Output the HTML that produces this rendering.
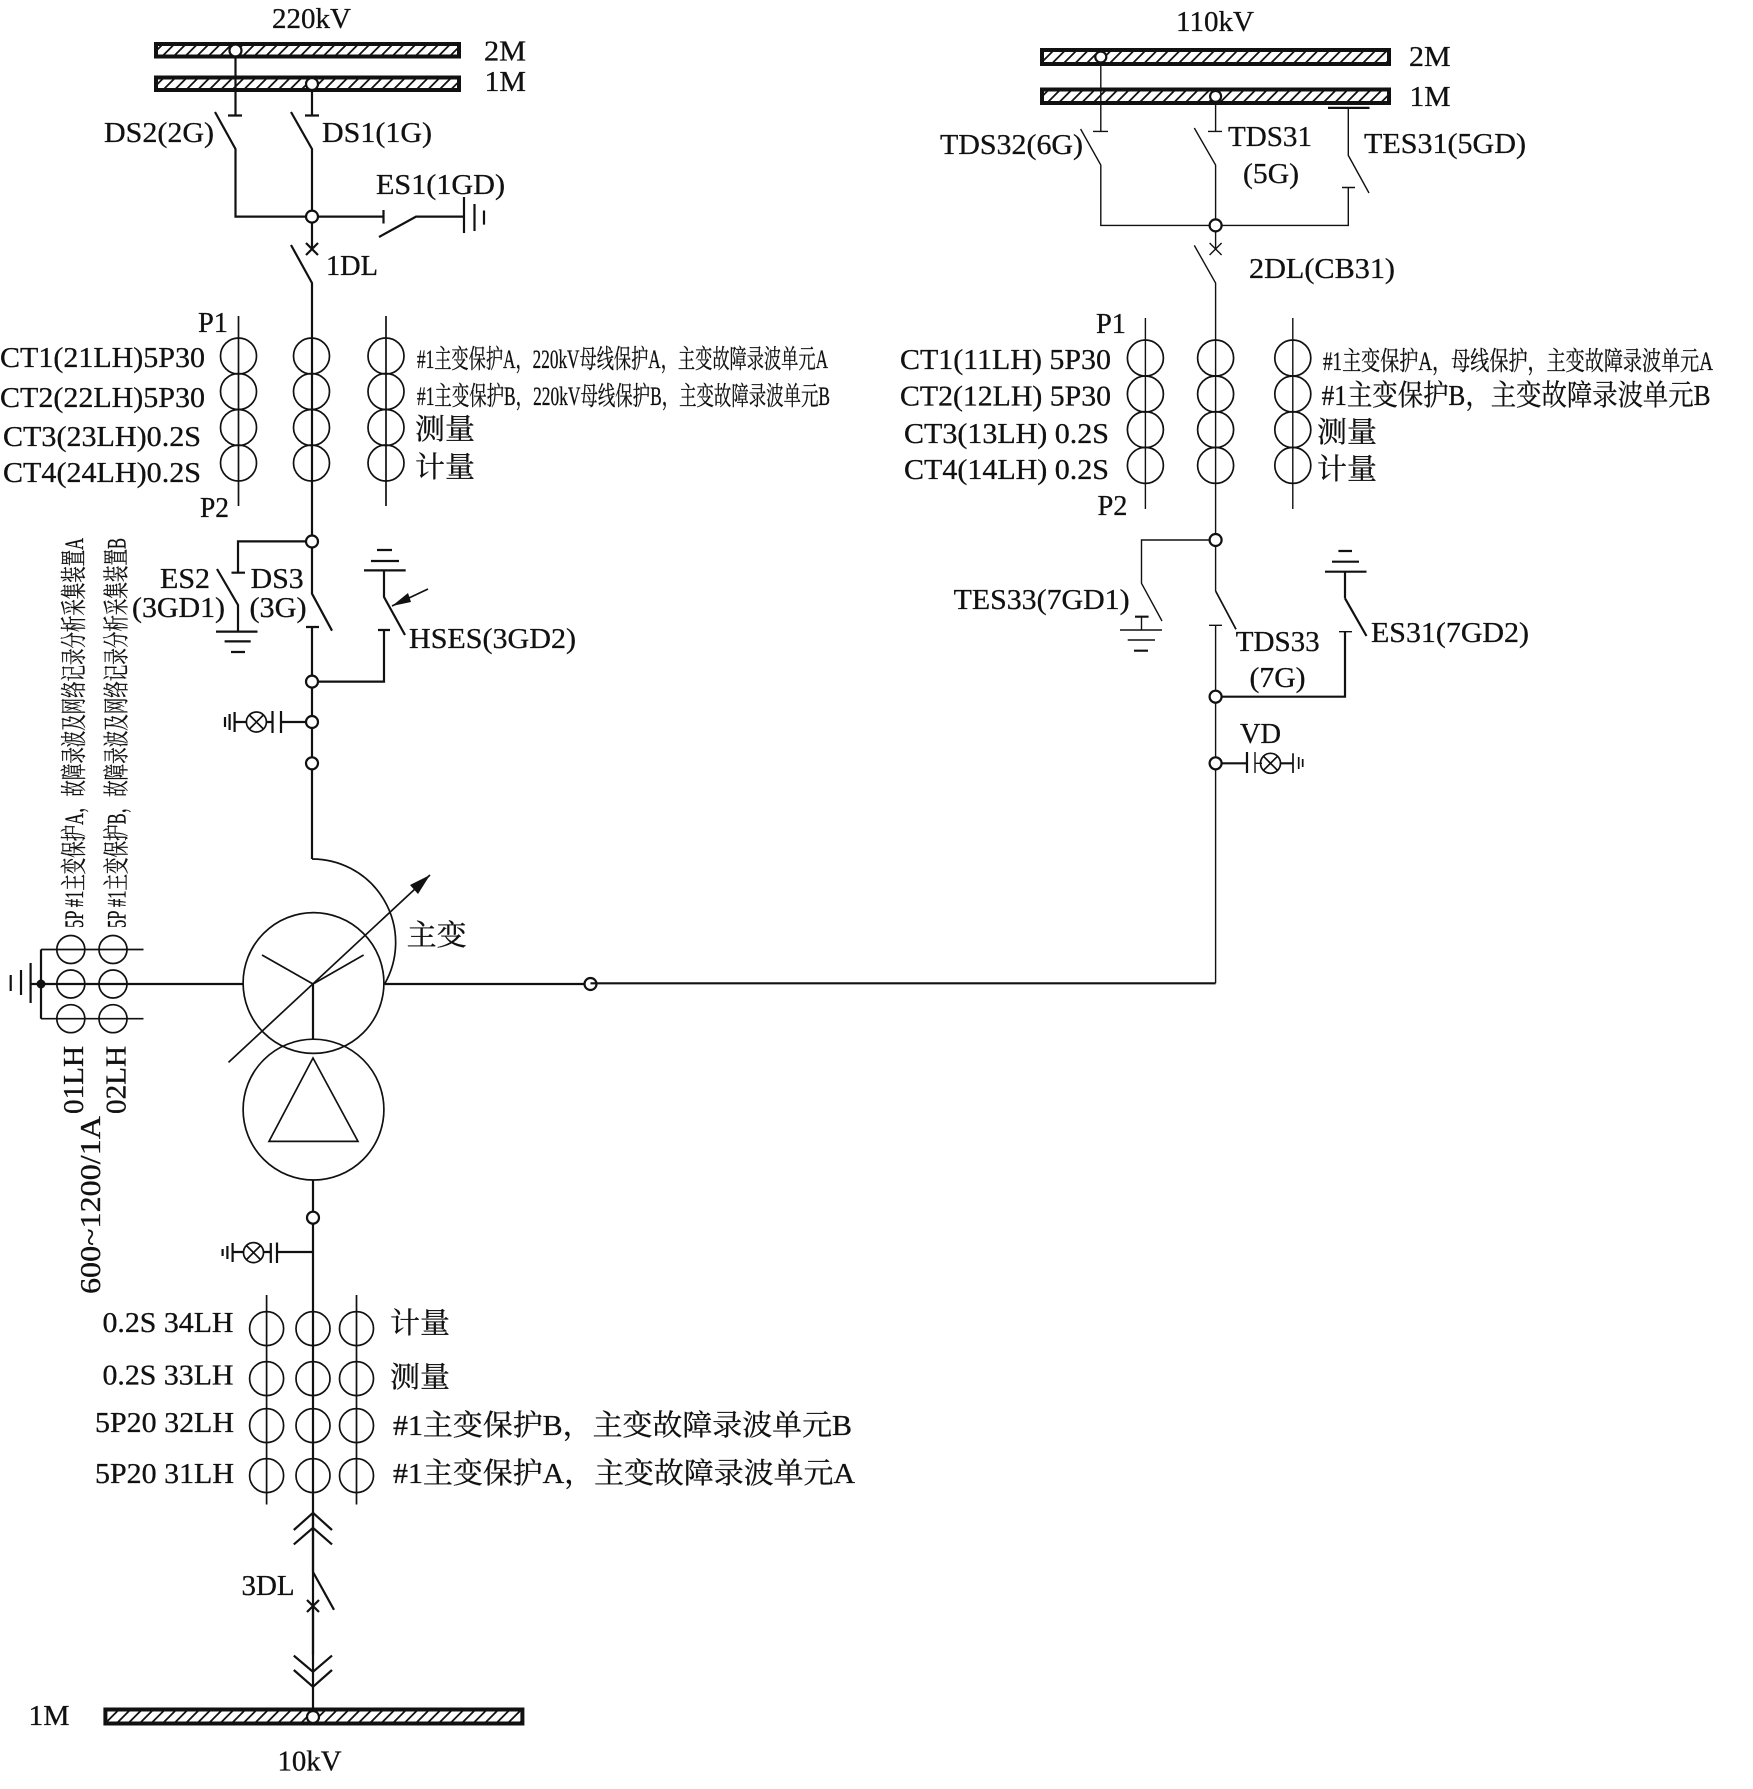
<!DOCTYPE html>
<html><head><meta charset="utf-8"><style>
html,body{margin:0;padding:0;background:#fff}
svg{display:block}
text{font-family:"Liberation Serif","Noto Serif CJK SC",serif;font-size:29px;fill:#111;stroke:#111;stroke-width:.3}
.c{font-size:26px}
.l{fill:none;stroke:#111;stroke-width:2.2}
.t{fill:none;stroke:#111;stroke-width:1.4}
.m{fill:none;stroke:#111;stroke-width:1.7}
.j{fill:#fff;stroke:#111;stroke-width:2.2}
</style></head><body>
<svg width="1753" height="1789" viewBox="0 0 1753 1789" xmlns="http://www.w3.org/2000/svg">
<defs>
<pattern id="h" width="11.5" height="11.5" patternUnits="userSpaceOnUse">
<path d="M-2 13.5L13.5 -2M-2 2L2 -2M9.5 13.5L13.5 9.5" stroke="#111" stroke-width="1.8"/>
</pattern>
</defs>
<rect width="1753" height="1789" fill="#fff"/>

<!-- 220 kV buses -->
<rect x="156" y="44" width="303" height="12.5" fill="url(#h)" stroke="#111" stroke-width="4"/>
<rect x="156" y="77.5" width="303" height="12.5" fill="url(#h)" stroke="#111" stroke-width="4"/>
<g class="l">
<path d="M235.5 50.5V115.5M228 115.5H242M215 112L235.5 149V216.6H312"/>
<path d="M312 84V115.5M305 115.5H319M291 112L312 149V249"/>
<path d="M312 216.6H383.5M383.5 210V223.5M379 237L416 216.6H464M464 197V233M474.5 204V231M484 210.5V224.6"/>
<path d="M306 243L318 255M318 243L306 255M291 245L312 283V542"/>
<path d="M312 541.4H238V572.7M231.5 572.7H245M217 569L238 605V631.6M216 631.6H257.5M224.6 641.4H250.7M231 652H245"/>
<path d="M312 541.4V593.7L332 630.7M306 627H319M312 627V859"/>
<path d="M312 681.6H384V630M378 630H390M384 570.4V597L405 635M364 570.4H405.7M371 561H399M377 550H392"/>
<path d="M312 722H281M281 711V733M272.5 711V733M272.5 722H266M246.4 722H234.6M234.6 712V732M229.6 714V730M225 717V727"/>
<path d="M41 984H243M384.6 984H590.5"/>
<path d="M41 949.5V1018.7M30.6 984H41M30.6 963V1003M21 970V995M10.7 975V991"/>
<path d="M313 1039V984M313 1180V1217.7V1655"/>
<path d="M313 1252H277M277 1242.5V1263M270.8 1243V1263M270.8 1252H263.5M243.5 1252H232.6M232.6 1243V1262M227.4 1246V1259M222.6 1249V1256"/>
<path d="M293.8 1530L313 1512.8L332 1530M293.8 1544.4L313 1527.8L332 1544.4M313 1512.8V1572L334 1609.8M307 1600L319 1612M319 1600L307 1612M313 1606V1717"/>
<path d="M293.8 1655.6L313 1671.8L332 1655.6M293.8 1670L313 1686.8L332 1670"/>
</g>
<circle class="j" cx="235.5" cy="50.5" r="6"/>
<circle class="j" cx="312" cy="84" r="6"/>
<circle class="j" cx="312" cy="216.6" r="6"/>
<circle class="j" cx="312" cy="541.5" r="6"/>
<circle class="j" cx="312" cy="681.6" r="6"/>
<circle class="j" cx="312" cy="722" r="6"/>
<circle class="j" cx="312" cy="763.3" r="6"/>
<circle class="j" cx="590.5" cy="984" r="6"/>
<circle class="j" cx="313" cy="1217.7" r="6"/>
<circle cx="41" cy="984" r="4.5" fill="#111"/>

<!-- VD lamps -->
<g class="m" fill="none">
<circle cx="256.4" cy="722" r="10"/><path d="M249.4 715L263.4 729M263.4 715L249.4 729"/>
<circle cx="253.5" cy="1252.6" r="10"/><path d="M246.5 1245.6L260.5 1259.6M260.5 1245.6L246.5 1259.6"/>
</g>

<!-- CTs 220 kV -->
<g class="m">
<circle cx="238.5" cy="356" r="18"/><circle cx="238.5" cy="391.5" r="18"/><circle cx="238.5" cy="427.5" r="18"/><circle cx="238.5" cy="463" r="18"/>
<circle cx="311.5" cy="356" r="18"/><circle cx="311.5" cy="391.5" r="18"/><circle cx="311.5" cy="427.5" r="18"/><circle cx="311.5" cy="463" r="18"/>
<circle cx="386" cy="356" r="18"/><circle cx="386" cy="391.5" r="18"/><circle cx="386" cy="427.5" r="18"/><circle cx="386" cy="463" r="18"/>
<path d="M238.5 316V506M386 316V506"/>
<!-- neutral CTs -->
<path d="M41 949.5H143.5M41 1018.7H143.5"/>
<circle cx="70.8" cy="949.5" r="14"/><circle cx="70.8" cy="984" r="14"/><circle cx="70.8" cy="1018.7" r="14"/>
<circle cx="113" cy="949.5" r="14"/><circle cx="113" cy="984" r="14"/><circle cx="113" cy="1018.7" r="14"/>
<!-- 10 kV CTs -->
<circle cx="266.6" cy="1328.6" r="17"/><circle cx="266.6" cy="1378.6" r="17"/><circle cx="266.6" cy="1425.6" r="17"/><circle cx="266.6" cy="1475.6" r="17"/>
<circle cx="313" cy="1328.6" r="17"/><circle cx="313" cy="1378.6" r="17"/><circle cx="313" cy="1425.6" r="17"/><circle cx="313" cy="1475.6" r="17"/>
<circle cx="356.5" cy="1328.6" r="17"/><circle cx="356.5" cy="1378.6" r="17"/><circle cx="356.5" cy="1425.6" r="17"/><circle cx="356.5" cy="1475.6" r="17"/>
<path d="M266.6 1295V1504.5M356.5 1295V1504.5"/>
</g>

<!-- Transformer -->
<g class="m">
<circle cx="313.5" cy="983" r="70.4"/>
<circle cx="313.5" cy="1109.6" r="70.4"/>
<path d="M312 859A83.5 83.5 0 0 1 384.6 984"/>
<path d="M262 955L313 984L363.6 955"/>
<path d="M313 1058L269 1141.4H358Z"/>
<path d="M228.5 1062.4L430 875"/>
<path d="M428 589L392 606"/>
</g>
<path d="M430 875L410 885L418 894Z" fill="#111"/>
<path d="M392 606L408 593L411 602Z" fill="#111"/>

<!-- Bottom bus -->
<rect x="105.4" y="1709.5" width="417" height="14" fill="url(#h)" stroke="#111" stroke-width="4"/>
<circle class="j" cx="313" cy="1717" r="6"/>

<!-- 110 kV -->
<rect x="1042" y="50" width="347" height="14" fill="url(#h)" stroke="#111" stroke-width="4"/>
<rect x="1042" y="89.5" width="347" height="13.5" fill="url(#h)" stroke="#111" stroke-width="4"/>
<g class="t">
<path d="M1100.8 57V131.4M1093 131.4H1108M1080.6 129L1100.8 165V225.4H1348.3V187.5M1342 187.5H1355"/>
<path d="M1215.6 96.4V131.4M1208 131.4H1222M1194.3 128L1215.6 165V249"/>
<path d="M1209.6 243L1221.6 255M1221.6 243L1209.6 255M1194.3 245.4L1215.6 283V591"/>
<path d="M1215.6 625.3V983.3"/>
<path d="M1369 193L1348.3 155.4V107.9"/>
<path d="M1215.6 540H1141.5V583.3L1162 621M1141.5 616.7V630M1120 630H1162M1127.7 640H1155"/>
<path d="M1209 625.3H1222M1339 631.7H1352"/>
<path d="M1145.4 318V509M1292.8 318V509"/>
<path d="M1255 752V773M1262 763.3H1255"/>
</g>
<path class="m" d="M1215.6 591L1236 629.3M1293 753.3V773M1298.7 757V769M1302.7 759V767"/>
<g class="l">
<path d="M1328 107.9H1369.5"/>
<path d="M1135 616.7H1148.6M1134 650.7H1148"/>
<path d="M1215.6 696.7H1345V631.7M1345 598.3L1366.5 636M1345 598.3V571.7M1325 571.7H1366.5M1332 561.7H1359M1338.4 551H1352"/>
<path d="M1215.6 763.3H1247M1247 752V773M1280.5 763.3H1293M590.5 983.3H1215.6"/>
</g>
<circle class="j" cx="1100.8" cy="57" r="5.5"/>
<circle class="j" cx="1215.6" cy="96.4" r="5.5"/>
<circle class="j" cx="1215.6" cy="225.4" r="6"/>
<circle class="j" cx="1215.6" cy="540" r="6"/>
<circle class="j" cx="1215.6" cy="696.7" r="6"/>
<circle class="j" cx="1215.6" cy="763.3" r="6"/>
<g class="m">
<circle cx="1270.5" cy="763.3" r="10"/><path d="M1263.5 756.3L1277.5 770.3M1277.5 756.3L1263.5 770.3"/>
<circle cx="1145.4" cy="358" r="18"/><circle cx="1145.4" cy="394" r="18"/><circle cx="1145.4" cy="429.6" r="18"/><circle cx="1145.4" cy="465.4" r="18"/>
<circle cx="1215.6" cy="358" r="18"/><circle cx="1215.6" cy="394" r="18"/><circle cx="1215.6" cy="429.6" r="18"/><circle cx="1215.6" cy="465.4" r="18"/>
<circle cx="1292.8" cy="358" r="18"/><circle cx="1292.8" cy="394" r="18"/><circle cx="1292.8" cy="429.6" r="18"/><circle cx="1292.8" cy="465.4" r="18"/>
</g>

<!-- Labels left -->
<text x="272" y="28.2" textLength="79" lengthAdjust="spacingAndGlyphs">220kV</text>
<text x="484" y="60.5" textLength="42" lengthAdjust="spacingAndGlyphs">2M</text>
<text x="484.5" y="91" textLength="41.5" lengthAdjust="spacingAndGlyphs">1M</text>
<text x="104" y="142" textLength="110" lengthAdjust="spacingAndGlyphs">DS2(2G)</text>
<text x="322" y="142" textLength="110" lengthAdjust="spacingAndGlyphs">DS1(1G)</text>
<text x="376" y="194" textLength="129" lengthAdjust="spacingAndGlyphs">ES1(1GD)</text>
<text x="326" y="275" textLength="52" lengthAdjust="spacingAndGlyphs">1DL</text>
<text x="198" y="332" textLength="30" lengthAdjust="spacingAndGlyphs">P1</text>
<text x="200" y="517" textLength="29" lengthAdjust="spacingAndGlyphs">P2</text>
<text x="0" y="367" textLength="205" lengthAdjust="spacingAndGlyphs">CT1(21LH)5P30</text>
<text x="0" y="407" textLength="205" lengthAdjust="spacingAndGlyphs">CT2(22LH)5P30</text>
<text x="3" y="446" textLength="198" lengthAdjust="spacingAndGlyphs">CT3(23LH)0.2S</text>
<text x="3" y="482" textLength="198" lengthAdjust="spacingAndGlyphs">CT4(24LH)0.2S</text>
<text class="c" x="417" y="368" textLength="411" lengthAdjust="spacingAndGlyphs">#1主变保护A，220kV母线保护A，主变故障录波单元A</text>
<text class="c" x="417" y="405" textLength="413" lengthAdjust="spacingAndGlyphs">#1主变保护B，220kV母线保护B，主变故障录波单元B</text>
<text x="415" y="439" textLength="60" lengthAdjust="spacingAndGlyphs">测量</text>
<text x="415" y="477" textLength="60" lengthAdjust="spacingAndGlyphs">计量</text>
<text x="160" y="588" textLength="50" lengthAdjust="spacingAndGlyphs">ES2</text>
<text x="132" y="617" textLength="93" lengthAdjust="spacingAndGlyphs">(3GD1)</text>
<text x="250.7" y="588" textLength="53" lengthAdjust="spacingAndGlyphs">DS3</text>
<text x="249.5" y="617" textLength="57" lengthAdjust="spacingAndGlyphs">(3G)</text>
<text x="409" y="648" textLength="167" lengthAdjust="spacingAndGlyphs">HSES(3GD2)</text>
<text x="406.7" y="945" textLength="60" lengthAdjust="spacingAndGlyphs">主变</text>
<text class="c" transform="translate(83,928) rotate(-90)" textLength="390" lengthAdjust="spacingAndGlyphs">5P #1主变保护A，故障录波及网络记录分析采集装置A</text>
<text class="c" transform="translate(125.5,928) rotate(-90)" textLength="390" lengthAdjust="spacingAndGlyphs">5P #1主变保护B，故障录波及网络记录分析采集装置B</text>
<text transform="translate(83,1114) rotate(-90)" textLength="68" lengthAdjust="spacingAndGlyphs">01LH</text>
<text transform="translate(125.5,1114) rotate(-90)" textLength="68" lengthAdjust="spacingAndGlyphs">02LH</text>
<text transform="translate(100,1294) rotate(-90)" textLength="178" lengthAdjust="spacingAndGlyphs">600~1200/1A</text>

<text x="102.5" y="1332" textLength="131" lengthAdjust="spacingAndGlyphs">0.2S 34LH</text>
<text x="102.5" y="1384.5" textLength="131" lengthAdjust="spacingAndGlyphs">0.2S 33LH</text>
<text x="95" y="1432" textLength="139" lengthAdjust="spacingAndGlyphs">5P20 32LH</text>
<text x="95" y="1483" textLength="139" lengthAdjust="spacingAndGlyphs">5P20 31LH</text>
<text x="390" y="1333" textLength="60" lengthAdjust="spacingAndGlyphs">计量</text>
<text x="390" y="1387" textLength="60" lengthAdjust="spacingAndGlyphs">测量</text>
<text x="393" y="1435" textLength="459" lengthAdjust="spacingAndGlyphs">#1主变保护B，主变故障录波单元B</text>
<text x="393" y="1483" textLength="462" lengthAdjust="spacingAndGlyphs">#1主变保护A，主变故障录波单元A</text>
<text x="241.5" y="1595" textLength="53" lengthAdjust="spacingAndGlyphs">3DL</text>
<text x="28.5" y="1725" textLength="41" lengthAdjust="spacingAndGlyphs">1M</text>
<text x="277.5" y="1770.7" textLength="64" lengthAdjust="spacingAndGlyphs">10kV</text>

<!-- Labels right -->
<text x="1176" y="31" textLength="78" lengthAdjust="spacingAndGlyphs">110kV</text>
<text x="1409" y="66" textLength="41.6" lengthAdjust="spacingAndGlyphs">2M</text>
<text x="1409.5" y="106" textLength="41" lengthAdjust="spacingAndGlyphs">1M</text>
<text x="940" y="154" textLength="143" lengthAdjust="spacingAndGlyphs">TDS32(6G)</text>
<text x="1228" y="146" textLength="84" lengthAdjust="spacingAndGlyphs">TDS31</text>
<text x="1243" y="183" textLength="56" lengthAdjust="spacingAndGlyphs">(5G)</text>
<text x="1364" y="153" textLength="162" lengthAdjust="spacingAndGlyphs">TES31(5GD)</text>
<text x="1249" y="278" textLength="146" lengthAdjust="spacingAndGlyphs">2DL(CB31)</text>
<text x="1096" y="333" textLength="30" lengthAdjust="spacingAndGlyphs">P1</text>
<text x="1097.5" y="515" textLength="30" lengthAdjust="spacingAndGlyphs">P2</text>
<text x="900" y="369" textLength="211" lengthAdjust="spacingAndGlyphs">CT1(11LH) 5P30</text>
<text x="900" y="405.4" textLength="211" lengthAdjust="spacingAndGlyphs">CT2(12LH) 5P30</text>
<text x="904" y="443" textLength="205" lengthAdjust="spacingAndGlyphs">CT3(13LH) 0.2S</text>
<text x="904" y="479" textLength="205" lengthAdjust="spacingAndGlyphs">CT4(14LH) 0.2S</text>
<text class="c" x="1323" y="370" textLength="390" lengthAdjust="spacingAndGlyphs">#1主变保护A，母线保护，主变故障录波单元A</text>
<text x="1321.6" y="405" textLength="389" lengthAdjust="spacingAndGlyphs">#1主变保护B，主变故障录波单元B</text>
<text x="1317" y="442" textLength="60" lengthAdjust="spacingAndGlyphs">测量</text>
<text x="1317" y="479" textLength="60" lengthAdjust="spacingAndGlyphs">计量</text>
<text x="953.6" y="609" textLength="176" lengthAdjust="spacingAndGlyphs">TES33(7GD1)</text>
<text x="1235.7" y="651" textLength="84" lengthAdjust="spacingAndGlyphs">TDS33</text>
<text x="1249.5" y="687" textLength="56" lengthAdjust="spacingAndGlyphs">(7G)</text>
<text x="1371" y="642" textLength="158" lengthAdjust="spacingAndGlyphs">ES31(7GD2)</text>
<text x="1240" y="743" textLength="41" lengthAdjust="spacingAndGlyphs">VD</text>
</svg>
</body></html>
